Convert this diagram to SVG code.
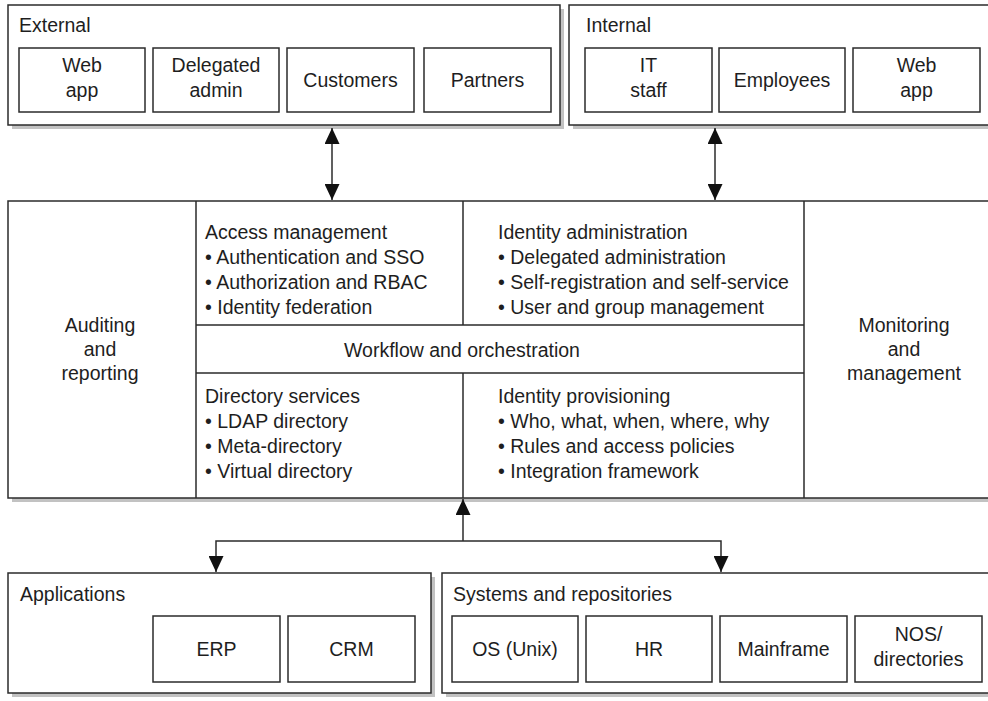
<svg xmlns="http://www.w3.org/2000/svg" width="988" height="701" viewBox="0 0 988 701">
  <style>
    .box{fill:#fff;stroke:#2b2b2b;stroke-width:1.5}
    .shadow{fill:#c2c2c2}
    .rule{stroke:#2b2b2b;stroke-width:1.5;fill:none}
    text{font-family:"Liberation Sans",Arial,sans-serif;font-size:19.5px;fill:#1e1e1e}
    .c{text-anchor:middle}
    .conn{stroke:#2b2b2b;stroke-width:1.5;fill:none}
  </style>
  <defs>
    <marker id="arrow" viewBox="0 0 16 15" refX="16" refY="7.5" markerWidth="16" markerHeight="15" markerUnits="userSpaceOnUse" orient="auto-start-reverse">
      <path d="M0,0 L16,7.5 L0,15 z" fill="#111"/>
    </marker>
  </defs>
  <rect width="988" height="701" fill="#fff"/>

  <!-- External users -->
  <g id="external">
    <rect class="shadow" x="12" y="9" width="552" height="120"/>
    <rect class="box" x="8" y="5" width="552" height="120"/>
    <text x="19" y="32">External</text>
    <g id="ext-webapp">
      <rect class="box" x="19" y="48" width="126" height="64"/>
      <text class="c" x="82" y="72">Web</text>
      <text class="c" x="82" y="97">app</text>
    </g>
    <g id="ext-delegated">
      <rect class="box" x="153" y="48" width="126" height="64"/>
      <text class="c" x="216" y="72">Delegated</text>
      <text class="c" x="216" y="97">admin</text>
    </g>
    <g id="ext-customers">
      <rect class="box" x="287" y="48" width="127" height="64"/>
      <text class="c" x="350.5" y="87">Customers</text>
    </g>
    <g id="ext-partners">
      <rect class="box" x="424" y="48" width="127" height="64"/>
      <text class="c" x="487.5" y="87">Partners</text>
    </g>
  </g>

  <!-- Internal users -->
  <g id="internal">
    <rect class="shadow" x="573" y="9" width="430" height="120"/>
    <rect class="box" x="569" y="5" width="430" height="120"/>
    <text x="586" y="32">Internal</text>
    <g id="int-itstaff">
      <rect class="box" x="585" y="48" width="127" height="64"/>
      <text class="c" x="648.5" y="72">IT</text>
      <text class="c" x="648.5" y="97">staff</text>
    </g>
    <g id="int-employees">
      <rect class="box" x="719" y="48" width="126" height="64"/>
      <text class="c" x="782" y="87">Employees</text>
    </g>
    <g id="int-webapp">
      <rect class="box" x="853" y="48" width="127" height="64"/>
      <text class="c" x="916.5" y="72">Web</text>
      <text class="c" x="916.5" y="97">app</text>
    </g>
  </g>

  <!-- Identity management core -->
  <g id="core">
    <rect class="shadow" x="12" y="205" width="990" height="297"/>
    <rect class="box" x="8" y="201" width="990" height="297"/>
    <path class="rule" d="M196,201 V498 M804,201 V498 M463,201 V325 M463,373 V498 M196,325 H804 M196,373 H804"/>
  </g>
  <g id="auditing">
    <text class="c" x="100" y="332">Auditing</text>
    <text class="c" x="100" y="356">and</text>
    <text class="c" x="100" y="380">reporting</text>
  </g>
  <g id="access-management">
    <text x="205" y="239">Access management</text>
    <text x="205" y="264">• Authentication and SSO</text>
    <text x="205" y="289">• Authorization and RBAC</text>
    <text x="205" y="314">•  Identity federation</text>
  </g>
  <g id="identity-administration">
    <text x="498" y="239">Identity administration</text>
    <text x="498" y="264">• Delegated administration</text>
    <text x="498" y="289">• Self-registration and self-service</text>
    <text x="498" y="314">• User and group management</text>
  </g>
  <g id="workflow">
    <text class="c" x="462" y="357">Workflow and orchestration</text>
  </g>
  <g id="directory-services">
    <text x="205" y="403">Directory services</text>
    <text x="205" y="428">• LDAP directory</text>
    <text x="205" y="453">• Meta-directory</text>
    <text x="205" y="478">•  Virtual directory</text>
  </g>
  <g id="identity-provisioning">
    <text x="498" y="403">Identity provisioning</text>
    <text x="498" y="428">• Who, what, when, where, why</text>
    <text x="498" y="453">• Rules and access policies</text>
    <text x="498" y="478">• Integration framework</text>
  </g>
  <g id="monitoring">
    <text class="c" x="904" y="332">Monitoring</text>
    <text class="c" x="904" y="356">and</text>
    <text class="c" x="904" y="380">management</text>
  </g>

  <!-- Applications -->
  <g id="applications">
    <rect class="shadow" x="12" y="577" width="423" height="120"/>
    <rect class="box" x="8" y="573" width="423" height="120"/>
    <text x="20" y="601">Applications</text>
    <g id="app-erp">
      <rect class="box" x="153" y="616" width="127" height="66"/>
      <text class="c" x="216.5" y="656">ERP</text>
    </g>
    <g id="app-crm">
      <rect class="box" x="288" y="616" width="127" height="66"/>
      <text class="c" x="351.5" y="656">CRM</text>
    </g>
  </g>

  <!-- Systems and repositories -->
  <g id="systems">
    <rect class="shadow" x="446" y="577" width="560" height="120"/>
    <rect class="box" x="442" y="573" width="560" height="120"/>
    <text x="453" y="601">Systems and repositories</text>
    <g id="sys-os">
      <rect class="box" x="452" y="616" width="126" height="66"/>
      <text class="c" x="515" y="656">OS (Unix)</text>
    </g>
    <g id="sys-hr">
      <rect class="box" x="586" y="616" width="126" height="66"/>
      <text class="c" x="649" y="656">HR</text>
    </g>
    <g id="sys-mainframe">
      <rect class="box" x="720" y="616" width="127" height="66"/>
      <text class="c" x="783.5" y="656">Mainframe</text>
    </g>
    <g id="sys-nos">
      <rect class="box" x="855" y="616" width="127" height="66"/>
      <text class="c" x="918.5" y="641">NOS/</text>
      <text class="c" x="918.5" y="666">directories</text>
    </g>
  </g>

  <!-- Connectors -->
  <g id="connectors">
    <line class="conn" x1="332" y1="128" x2="332" y2="200" marker-start="url(#arrow)" marker-end="url(#arrow)"/>
    <line class="conn" x1="715" y1="128" x2="715" y2="200" marker-start="url(#arrow)" marker-end="url(#arrow)"/>
    <line class="conn" x1="463" y1="541" x2="463" y2="499" marker-end="url(#arrow)"/>
    <path class="conn" d="M216,572 V541 H721 V572" marker-start="url(#arrow)" marker-end="url(#arrow)"/>
  </g>
</svg>
